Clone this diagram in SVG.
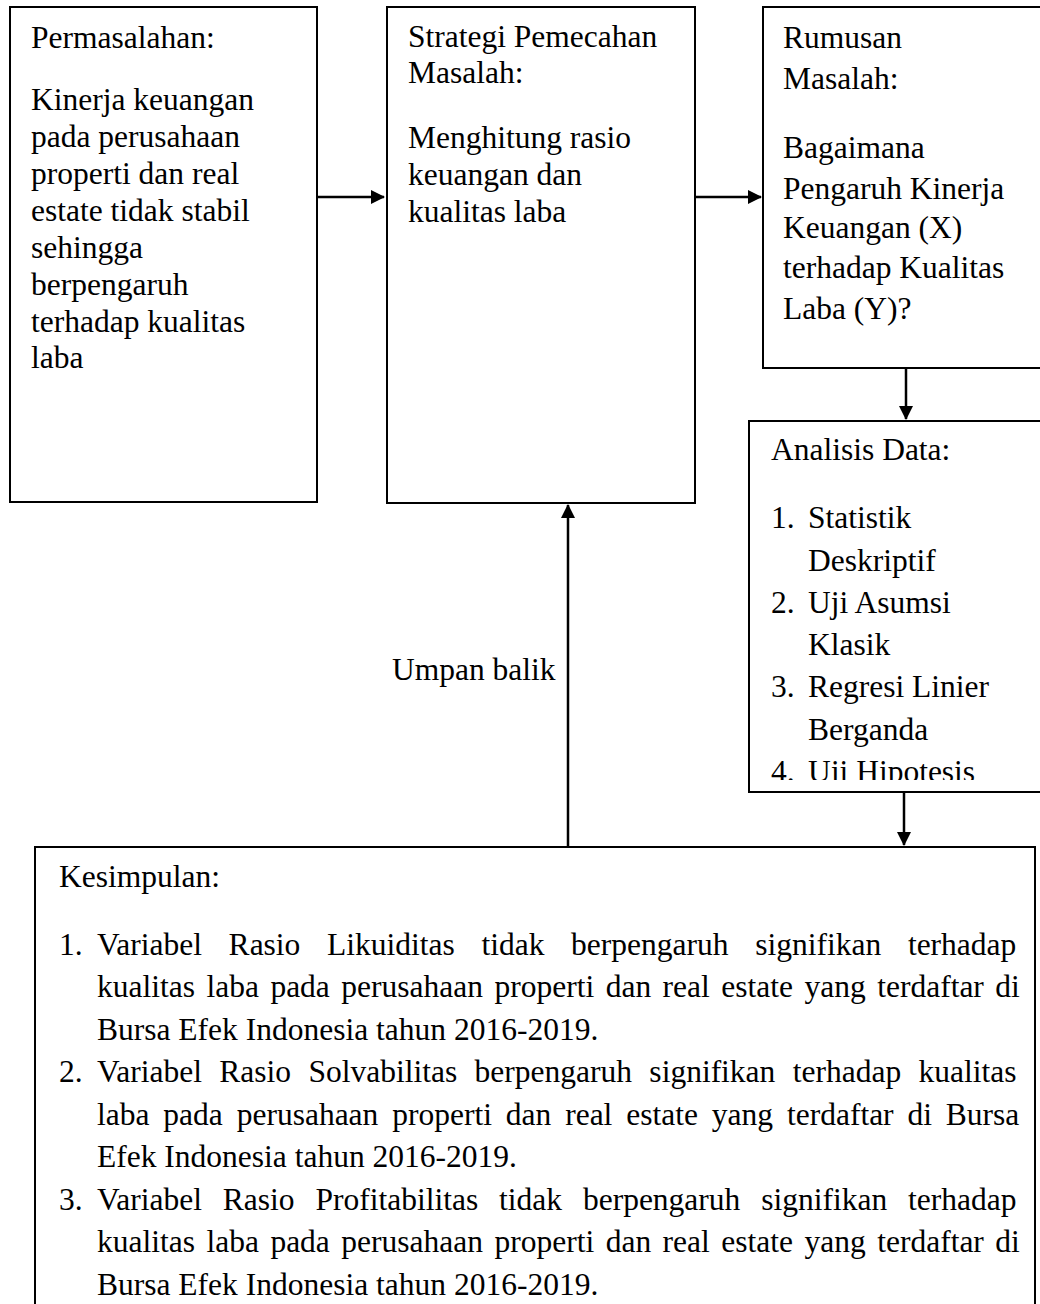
<svg xmlns="http://www.w3.org/2000/svg" width="1040" height="1304" viewBox="0 0 1040 1304">
<style>
.box{fill:#fff;stroke:#000;stroke-width:2}
.t{font-family:"Liberation Serif","Times New Roman",serif;font-size:31.5px;fill:#000}
.c{stroke:#000;stroke-width:2.5;fill:none;marker-end:url(#ah)}
</style>
<defs>
<marker id="ah" markerUnits="userSpaceOnUse" markerWidth="15" markerHeight="15" refX="13" refY="7" orient="auto">
<path d="M0,0 L14,7 L0,14 z" fill="#000"/>
</marker>
<clipPath id="clip4"><rect x="749" y="421" width="300" height="359"/></clipPath>
</defs>
<rect width="1040" height="1304" fill="#fff"/>
<g id="connectors">
<line class="c" x1="318" y1="197" x2="384" y2="197"/>
<line class="c" x1="696" y1="197" x2="761" y2="197"/>
<line class="c" x1="906" y1="369" x2="906" y2="419"/>
<line class="c" x1="904" y1="793" x2="904" y2="845"/>
<line class="c" x1="568" y1="846" x2="568" y2="505"/>
<text class="t" x="392" y="680">Umpan balik</text>
</g>
<g id="permasalahan">
<rect class="box" x="10" y="7" width="307" height="495"/>
<text class="t" x="31" y="48">Permasalahan:</text>
<text class="t" x="31" y="110">Kinerja keuangan</text>
<text class="t" x="31" y="147">pada perusahaan</text>
<text class="t" x="31" y="184">properti dan real</text>
<text class="t" x="31" y="221">estate tidak stabil</text>
<text class="t" x="31" y="258">sehingga</text>
<text class="t" x="31" y="295">berpengaruh</text>
<text class="t" x="31" y="332">terhadap kualitas</text>
<text class="t" x="31" y="368">laba</text>
</g>
<g id="strategi">
<rect class="box" x="387" y="7" width="308" height="496"/>
<text class="t" x="408" y="47">Strategi Pemecahan</text>
<text class="t" x="408" y="83">Masalah:</text>
<text class="t" x="408" y="148">Menghitung rasio</text>
<text class="t" x="408" y="185">keuangan dan</text>
<text class="t" x="408" y="222">kualitas laba</text>
</g>
<g id="rumusan">
<rect class="box" x="763" y="7" width="300" height="361"/>
<text class="t" x="783" y="48">Rumusan</text>
<text class="t" x="783" y="89">Masalah:</text>
<text class="t" x="783" y="158">Bagaimana</text>
<text class="t" x="783" y="199">Pengaruh Kinerja</text>
<text class="t" x="783" y="238">Keuangan (X)</text>
<text class="t" x="783" y="278">terhadap Kualitas</text>
<text class="t" x="783" y="319">Laba (Y)?</text>
</g>
<g id="analisis">
<rect class="box" x="749" y="421" width="320" height="371"/>
<g clip-path="url(#clip4)">
<text class="t" x="771" y="460">Analisis Data:</text>
<text class="t" x="771" y="528">1.</text><text class="t" x="808" y="528">Statistik</text>
<text class="t" x="808" y="571">Deskriptif</text>
<text class="t" x="771" y="613">2.</text><text class="t" x="808" y="613">Uji Asumsi</text>
<text class="t" x="808" y="655">Klasik</text>
<text class="t" x="771" y="697">3.</text><text class="t" x="808" y="697">Regresi Linier</text>
<text class="t" x="808" y="740">Berganda</text>
<text class="t" x="771" y="782">4.</text><text class="t" x="808" y="782">Uji Hipotesis</text>
</g>
</g>
<g id="kesimpulan">
<rect class="box" x="35" y="847" width="1000" height="500"/>
<text class="t" x="59" y="887">Kesimpulan:</text>
<text class="t" x="59" y="955">1.</text>
<text class="t" x="97" y="955" word-spacing="18.8">Variabel Rasio Likuiditas tidak berpengaruh signifikan terhadap</text>
<text class="t" x="97" y="997" word-spacing="3.6">kualitas laba pada perusahaan properti dan real estate yang terdaftar di</text>
<text class="t" x="97" y="1040">Bursa Efek Indonesia tahun 2016-2019.</text>
<text class="t" x="59" y="1082">2.</text>
<text class="t" x="97" y="1082" word-spacing="9.5">Variabel Rasio Solvabilitas berpengaruh signifikan terhadap kualitas</text>
<text class="t" x="97" y="1125" word-spacing="6">laba pada perusahaan properti dan real estate yang terdaftar di Bursa</text>
<text class="t" x="97" y="1167">Efek Indonesia tahun 2016-2019.</text>
<text class="t" x="59" y="1210">3.</text>
<text class="t" x="97" y="1210" word-spacing="13">Variabel Rasio Profitabilitas tidak berpengaruh signifikan terhadap</text>
<text class="t" x="97" y="1252" word-spacing="3.6">kualitas laba pada perusahaan properti dan real estate yang terdaftar di</text>
<text class="t" x="97" y="1295">Bursa Efek Indonesia tahun 2016-2019.</text>
</g>
</svg>
